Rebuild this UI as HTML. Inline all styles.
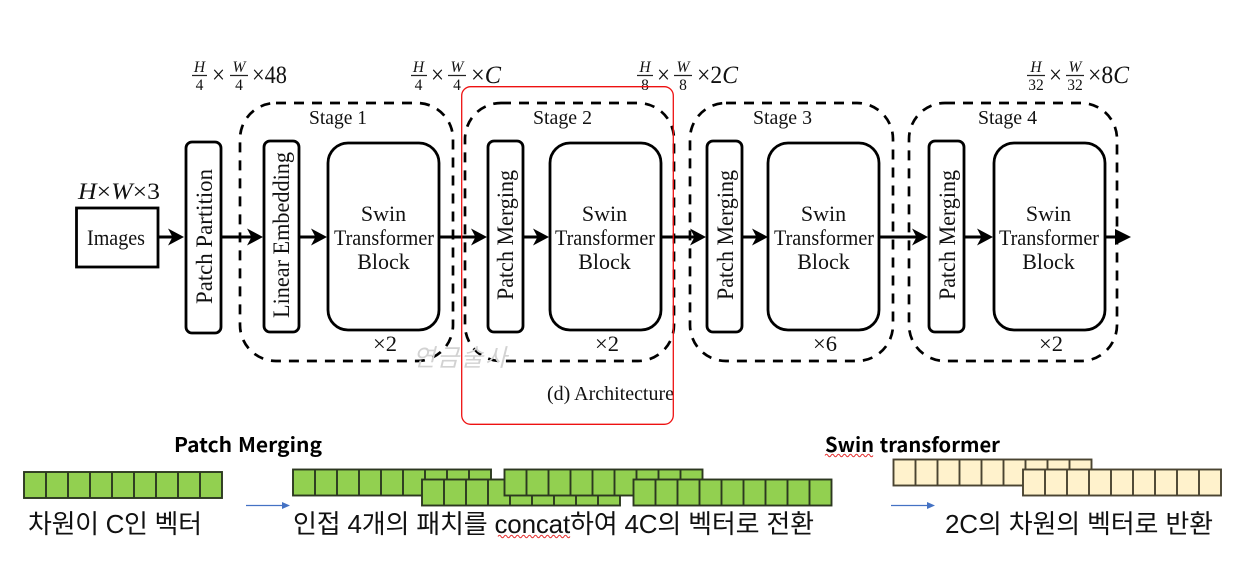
<!DOCTYPE html>
<html lang="ko">
<head>
<meta charset="utf-8">
<title>Swin Transformer Architecture</title>
<style>
html,body{margin:0;padding:0;background:#fff;width:1248px;height:574px;overflow:hidden}
svg{display:block}
.s{font-family:"Liberation Serif",serif;fill:#111}
.l{font-size:22px}
.r{font-size:23px}
.x{font-size:25px}
.f{font-size:15.500px;text-anchor:middle}
.i{font-style:italic}
.k{font-family:"Liberation Sans","Noto Sans CJK KR",sans-serif;font-size:26px;fill:#111}
.b{font-family:"Noto Sans CJK KR","Liberation Sans",sans-serif;font-size:20px;font-weight:700;fill:#000}
.box{fill:#fff;stroke:#000;stroke-width:2.800}
.dash{fill:none;stroke:#000;stroke-width:2.700;stroke-dasharray:10 8}
.line{stroke:#000;stroke-width:3;fill:none}
.soft{filter:blur(.35px)}
</style>
</head>
<body>
<svg width="1248" height="574" viewBox="0 0 1248 574" xmlns="http://www.w3.org/2000/svg">
<defs>
<path id="ah" d="M0 0L-16 -8.500L-11.500 0L-16 8.500Z" fill="#000"/>
<g id="gr">
<rect x="0" y="0" width="198" height="26" fill="#92d050" stroke="#2c3820" stroke-width="1.900"/>
<path d="M22 0V26M44 0V26M66 0V26M88 0V26M110 0V26M132 0V26M154 0V26M176 0V26" stroke="#2c3820" stroke-width="1.900" fill="none"/>
</g>
<g id="yl">
<rect x="0" y="0" width="198" height="26" fill="#fff2cc" stroke="#4a4431" stroke-width="1.900"/>
<path d="M22 0V26M44 0V26M66 0V26M88 0V26M110 0V26M132 0V26M154 0V26M176 0V26" stroke="#4a4431" stroke-width="1.900" fill="none"/>
</g>
</defs>

<g class="soft">
<!-- dashed stages -->
<rect class="dash" x="240" y="103" width="213" height="258" rx="36"/>
<rect class="dash" x="465" y="103" width="209" height="258" rx="36"/>
<rect class="dash" x="690" y="103" width="203" height="258" rx="36"/>
<rect class="dash" x="909" y="103" width="208" height="258" rx="36"/>

<!-- connector lines -->
<path class="line" d="M158 237H174M221 237H253M299 237H317M439 237H477M523 237H539M661 237H696M742 237H758M879 237H918M964 237H983M1105 237H1120"/>
<use href="#ah" x="184" y="237"/>
<use href="#ah" x="263" y="237"/>
<use href="#ah" x="327" y="237"/>
<use href="#ah" x="487" y="237"/>
<use href="#ah" x="549" y="237"/>
<use href="#ah" x="706" y="237"/>
<use href="#ah" x="768" y="237"/>
<use href="#ah" x="928" y="237"/>
<use href="#ah" x="993" y="237"/>
<path d="M1131 237L1115 229V245Z" fill="#000"/>

<!-- boxes -->
<rect class="box" x="76.500" y="208" width="81.500" height="59"/>
<rect class="box" x="186" y="142" width="35" height="191" rx="6"/>
<rect class="box" x="264" y="141" width="35" height="191" rx="6"/>
<rect class="box" x="328" y="143" width="111" height="187" rx="20"/>
<rect class="box" x="488" y="141" width="35" height="191" rx="6"/>
<rect class="box" x="550" y="143" width="111" height="187" rx="20"/>
<rect class="box" x="707" y="141" width="35" height="191" rx="6"/>
<rect class="box" x="768" y="143" width="111" height="187" rx="20"/>
<rect class="box" x="929" y="141" width="35" height="191" rx="6"/>
<rect class="box" x="994" y="143" width="111" height="187" rx="20"/>

<!-- box labels -->
<text class="s l" x="87" y="245" textLength="58" lengthAdjust="spacingAndGlyphs">Images</text>
<text class="s r" transform="translate(212 304) rotate(-90)" textLength="135" lengthAdjust="spacingAndGlyphs">Patch Partition</text>
<text class="s r" transform="translate(289 318) rotate(-90)" textLength="166" lengthAdjust="spacingAndGlyphs">Linear Embedding</text>
<text class="s r" transform="translate(513 300) rotate(-90)" textLength="130" lengthAdjust="spacingAndGlyphs">Patch Merging</text>
<text class="s r" transform="translate(733 300) rotate(-90)" textLength="130" lengthAdjust="spacingAndGlyphs">Patch Merging</text>
<text class="s r" transform="translate(955 300) rotate(-90)" textLength="130" lengthAdjust="spacingAndGlyphs">Patch Merging</text>

<g class="s l" text-anchor="middle">
<text x="383.500" y="221">Swin</text><text x="384" y="245" textLength="100" lengthAdjust="spacingAndGlyphs">Transformer</text><text x="383.500" y="269">Block</text>
<text x="604.500" y="221">Swin</text><text x="605" y="245" textLength="100" lengthAdjust="spacingAndGlyphs">Transformer</text><text x="604.500" y="269">Block</text>
<text x="823.500" y="221">Swin</text><text x="824" y="245" textLength="100" lengthAdjust="spacingAndGlyphs">Transformer</text><text x="823.500" y="269">Block</text>
<text x="1048.500" y="221">Swin</text><text x="1049" y="245" textLength="100" lengthAdjust="spacingAndGlyphs">Transformer</text><text x="1048.500" y="269">Block</text>
</g>

<!-- stage labels -->
<g class="s" font-size="20">
<text x="309" y="124" textLength="58" lengthAdjust="spacingAndGlyphs">Stage 1</text>
<text x="533" y="124" textLength="59" lengthAdjust="spacingAndGlyphs">Stage 2</text>
<text x="753" y="124" textLength="59" lengthAdjust="spacingAndGlyphs">Stage 3</text>
<text x="978" y="124" textLength="59" lengthAdjust="spacingAndGlyphs">Stage 4</text>
<text x="373" y="351" font-size="22" textLength="24" lengthAdjust="spacingAndGlyphs">×2</text>
<text x="595" y="351" font-size="22" textLength="24" lengthAdjust="spacingAndGlyphs">×2</text>
<text x="813" y="351" font-size="22" textLength="24" lengthAdjust="spacingAndGlyphs">×6</text>
<text x="1039" y="351" font-size="22" textLength="24" lengthAdjust="spacingAndGlyphs">×2</text>
<text x="547" y="400" textLength="127" lengthAdjust="spacingAndGlyphs">(d) Architecture</text>
</g>

<!-- dimension labels -->
<text class="s" x="78" y="199" font-size="23" textLength="82" lengthAdjust="spacingAndGlyphs"><tspan class="i">H</tspan>×<tspan class="i">W</tspan>×3</text>

<g class="s">
<g class="f"><text class="i" x="199.500" y="72">H</text><text x="199.500" y="90">4</text><text class="i" x="239" y="72">W</text><text x="239" y="90">4</text></g>
<path d="M192 75.500H207M230 75.500H248" stroke="#222" stroke-width="1.200"/>
<text class="x" x="212" y="83" textLength="13" lengthAdjust="spacingAndGlyphs">×</text>
<text class="x" x="252" y="83" textLength="35" lengthAdjust="spacingAndGlyphs">×48</text>

<g class="f"><text class="i" x="418.500" y="72">H</text><text x="418.500" y="90">4</text><text class="i" x="457" y="72">W</text><text x="457" y="90">4</text></g>
<path d="M411 75.500H427M448 75.500H466" stroke="#222" stroke-width="1.200"/>
<text class="x" x="431" y="83" textLength="13" lengthAdjust="spacingAndGlyphs">×</text>
<text class="x" x="471" y="83" textLength="30" lengthAdjust="spacingAndGlyphs">×<tspan class="i">C</tspan></text>

<g class="f"><text class="i" x="645" y="72">H</text><text x="645" y="90">8</text><text class="i" x="683" y="72">W</text><text x="683" y="90">8</text></g>
<path d="M637 75.500H653M674 75.500H692" stroke="#222" stroke-width="1.200"/>
<text class="x" x="657" y="83" textLength="13" lengthAdjust="spacingAndGlyphs">×</text>
<text class="x" x="697" y="83" textLength="41" lengthAdjust="spacingAndGlyphs">×2<tspan class="i">C</tspan></text>

<g class="f"><text class="i" x="1036" y="72">H</text><text x="1036" y="90">32</text><text class="i" x="1075" y="72">W</text><text x="1075" y="90">32</text></g>
<path d="M1027 75.500H1045M1066 75.500H1084" stroke="#222" stroke-width="1.200"/>
<text class="x" x="1049" y="83" textLength="13" lengthAdjust="spacingAndGlyphs">×</text>
<text class="x" x="1088" y="83" textLength="41" lengthAdjust="spacingAndGlyphs">×8<tspan class="i">C</tspan></text>
</g>
</g>

<!-- watermark -->
<text x="413" y="366" font-family="'Noto Sans CJK KR',sans-serif" font-size="24" font-style="italic" fill="#d2d2d2" textLength="94" lengthAdjust="spacing">연금술사</text>

<!-- red frame -->
<rect x="461.700" y="86.700" width="211.600" height="337.600" rx="9" fill="none" stroke="#ee1111" stroke-width="1.300"/>

<!-- lower section -->
<text class="b" x="174" y="452" textLength="148" lengthAdjust="spacingAndGlyphs">Patch Merging</text>
<text class="b" x="825" y="452" textLength="175" lengthAdjust="spacingAndGlyphs">Swin transformer</text>
<path d="M825 455.500q1.500 -2.500 3 0t3 0t3 0t3 0t3 0t3 0t3 0t3 0t3 0t3 0t3 0t3 0t3 0t3 0t3 0t3 0" fill="none" stroke="#e53030" stroke-width="1"/>

<use href="#gr" x="24" y="472"/>
<use href="#gr" x="293" y="469.500"/>
<use href="#gr" x="422" y="479.500"/>
<use href="#gr" x="504.500" y="469.500"/>
<use href="#gr" x="633.500" y="479.500"/>
<use href="#yl" x="893.500" y="459.500"/>
<use href="#yl" x="1023" y="469.500"/>

<path d="M246 505.500H282" stroke="#4472c4" stroke-width="1.300"/>
<path d="M290 505.500L282 502V509Z" fill="#4472c4"/>
<path d="M891 505.500H927" stroke="#4472c4" stroke-width="1.300"/>
<path d="M935 505.500L927 502V509Z" fill="#4472c4"/>

<text class="k" x="28" y="533" textLength="174" lengthAdjust="spacing">차원이 C인 벡터</text>
<text class="k" x="293" y="533" textLength="521" lengthAdjust="spacing">인접 4개의 패치를 concat하여 4C의 벡터로 전환</text>
<text class="k" x="945" y="533" textLength="268" lengthAdjust="spacing">2C의 차원의 벡터로 반환</text>
<path d="M498 536.500q1.500 -2.500 3 0t3 0t3 0t3 0t3 0t3 0t3 0t3 0t3 0t3 0t3 0t3 0t3 0t3 0t3 0t3 0t3 0t3 0t3 0t3 0t3 0t3 0t3 0t3 0" fill="none" stroke="#e53030" stroke-width="1"/>
</svg>
</body>
</html>
